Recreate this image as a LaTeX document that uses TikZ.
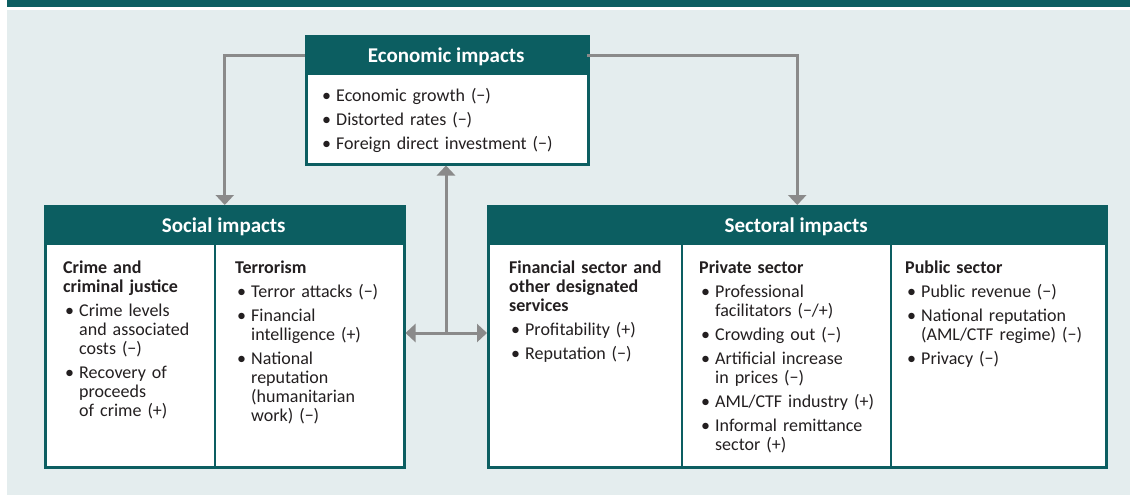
\documentclass[tikz,border=0pt]{standalone}
\usepackage{fontspec}
\setmainfont{Carlito}
\usetikzlibrary{arrows.meta,positioning}
\definecolor{aimteal}{RGB}{12,94,97}
\definecolor{aimback}{RGB}{228,237,238}
\definecolor{aimgrey}{RGB}{138,138,138}
\definecolor{aimtext}{RGB}{35,31,32}
\newcommand{\ihead}[1]{\noindent\textbf{#1}\par}
\newcommand{\iitem}[1]{\hangindent=16pt\hangafter=1\noindent\makebox[16pt][l]{\hspace{2pt}\textbullet}#1\par}

\begin{document}
\begin{tikzpicture}[x=1pt,y=-1pt,
  panel/.style={rectangle,draw=aimteal,line width=2.5pt,fill=white,anchor=north west,inner sep=0pt},
  head/.style={rectangle,fill=aimteal,text=white,anchor=north west,inner sep=0pt,minimum height=40pt,
    text height=15pt,text depth=0pt,font=\fontsize{21}{22}\selectfont\bfseries},
  list/.style={anchor=north west,inner sep=0pt,align=left,text=aimtext,font=\fontsize{18}{19}\selectfont,
    execute at begin node={\setlength{\parskip}{5pt}\setlength{\parindent}{0pt}}},
  rule/.style={draw=aimteal,line width=2.5pt},
  link/.style={draw=aimgrey,line width=3pt},
  tip/.style={-{Triangle[width=18pt,length=10pt]}}
]
\useasboundingbox (0,0) rectangle (1130,495);
\fill[aimteal] (7,0) rectangle (1130,7);
\fill[aimback] (7,10) rectangle (1130,495);

% economic box
\node[panel,minimum width=282pt,minimum height=128pt] (econ) at (305,35) {};
\node[head,minimum width=282pt] (econhead) at (econ.north west) {Economic impacts};
\node[list,text width=260pt] (econlist) at (320,88) {%
\iitem{Economic growth (−)}
\iitem{Distorted rates (−)}
\iitem{Foreign direct investment (−)}};

% social box
\node[panel,minimum width=359pt,minimum height=261pt] (social) at (44,205) {};
\node[head,minimum width=359pt] (socialhead) at (social.north west) {Social impacts};
\draw[rule] (215,245) -- (215,466);
\node[list,text width=150pt] (crime) at (63,261) {%
\ihead{Crime and\newline criminal justice}
\iitem{Crime levels\newline and associated\newline costs (−)}
\iitem{Recovery of\newline proceeds\newline of crime (+)}};
\node[list,text width=165pt] (terror) at (235,261) {%
\ihead{Terrorism}
\iitem{Terror attacks (−)}
\iitem{Financial\newline intelligence (+)}
\iitem{National\newline reputation\newline (humanitarian\newline work) (−)}};

% sectoral box
\node[panel,minimum width=618pt,minimum height=261pt] (sector) at (487,205) {};
\node[head,minimum width=618pt] (sectorhead) at (sector.north west) {Sectoral impacts};
\draw[rule] (682,245) -- (682,466);
\draw[rule] (891,245) -- (891,466);
\node[list,text width=170pt] (finance) at (509,261) {%
\ihead{Financial sector and\newline other designated\newline services}
\iitem{Profitability (+)}
\iitem{Reputation (−)}};
\node[list,text width=190pt] (private) at (699,261) {%
\ihead{Private sector}
\iitem{Professional\newline facilitators (−/+)}
\iitem{Crowding out (−)}
\iitem{Artificial increase\newline in prices (−)}
\iitem{AML/CTF industry (+)}
\iitem{Informal remittance\newline sector (+)}};
\node[list,text width=200pt] (public) at (905,261) {%
\ihead{Public sector}
\iitem{Public revenue (−)}
\iitem{National reputation\newline (AML/CTF regime) (−)}
\iitem{Privacy (−)}};

% connectors
\coordinate (hub) at (446,333);
\draw[link,tip] (econhead.west) -| (social.north);
\draw[link,tip] (econhead.east) -| (sector.north);
\draw[link,{Triangle[width=18pt,length=10pt]}-{Triangle[width=18pt,length=10pt]}] (hub -| social.east) -- (hub -| sector.west);
\draw[link,tip] (hub) -- (econ.south -| hub);
\end{tikzpicture}
\end{document}
